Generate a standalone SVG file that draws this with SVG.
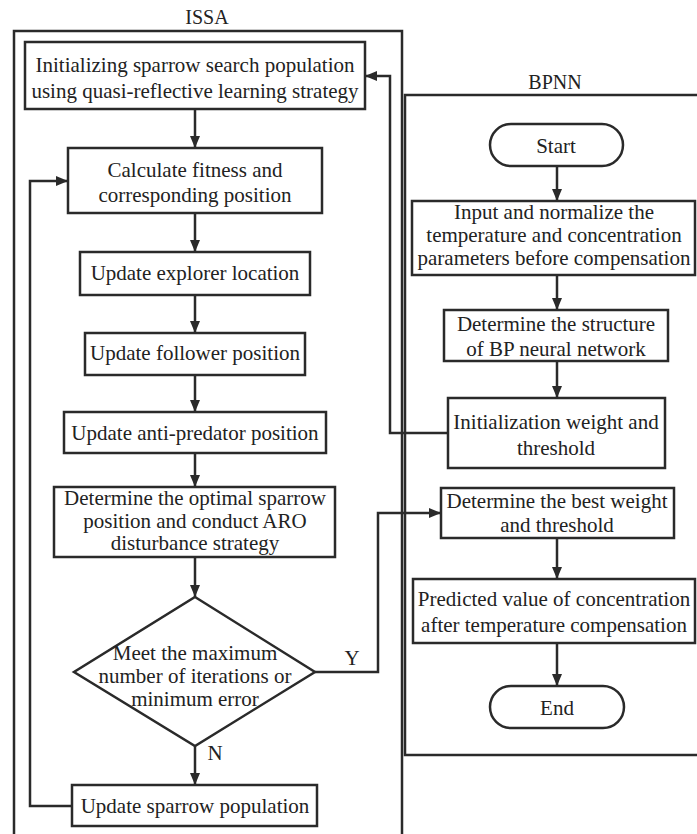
<svg xmlns="http://www.w3.org/2000/svg" width="697" height="834" viewBox="0 0 697 834">
<defs>
<marker id="ah" viewBox="0 0 12 10" refX="12" refY="5" markerWidth="12" markerHeight="10" markerUnits="userSpaceOnUse" orient="auto">
<path d="M0,0 L12,5 L0,10 z" fill="#2a2a2a"/>
</marker>
</defs>
<style>
.b{fill:#fff;stroke:#2a2a2a;stroke-width:2.5}
.o{fill:none;stroke:#2a2a2a;stroke-width:2.5}
.t{font-family:"Liberation Serif","Times New Roman",serif;font-size:21px;fill:#222;text-anchor:middle}
.l{font-family:"Liberation Serif","Times New Roman",serif;font-size:20px;fill:#222;text-anchor:middle}
.c{fill:none;stroke:#2a2a2a;stroke-width:2.5}
</style>
<rect width="697" height="834" fill="#fff"/>
<g id="issa">
<rect class="o" x="14" y="31" width="388" height="810"/>
<text class="l" x="207" y="24">ISSA</text>
</g>
<g id="bpnn">
<rect class="o" x="405" y="95" width="300" height="660"/>
<text class="l" x="555" y="89">BPNN</text>
</g>
<g id="connectors">
<line class="c" x1="195" y1="109" x2="195" y2="148" marker-end="url(#ah)"/>
<line class="c" x1="195" y1="213" x2="195" y2="252" marker-end="url(#ah)"/>
<line class="c" x1="195" y1="295" x2="195" y2="333" marker-end="url(#ah)"/>
<line class="c" x1="195" y1="375" x2="195" y2="412" marker-end="url(#ah)"/>
<line class="c" x1="195" y1="453" x2="195" y2="487" marker-end="url(#ah)"/>
<line class="c" x1="195" y1="557" x2="195" y2="597" marker-end="url(#ah)"/>
<line class="c" x1="195" y1="746" x2="195" y2="785" marker-end="url(#ah)"/>
<polyline class="c" points="72,806 30,806 30,181 68,181" marker-end="url(#ah)"/>
<polyline class="c" points="315,672 378,672 378,513 441,513" marker-end="url(#ah)"/>
<polyline class="c" points="448,433 390,433 390,76 365,76" marker-end="url(#ah)"/>
<line class="c" x1="557" y1="166" x2="557" y2="201" marker-end="url(#ah)"/>
<line class="c" x1="557" y1="275" x2="557" y2="310" marker-end="url(#ah)"/>
<line class="c" x1="557" y1="361" x2="557" y2="398" marker-end="url(#ah)"/>
<line class="c" x1="557" y1="538" x2="557" y2="579" marker-end="url(#ah)"/>
<line class="c" x1="557" y1="643" x2="557" y2="686" marker-end="url(#ah)"/>
<text class="t" x="352" y="665">Y</text>
<text class="t" x="215" y="760">N</text>
</g>
<g id="n1">
<rect class="b" x="25" y="42" width="340" height="67"/>
<text class="t" x="195" y="72">Initializing sparrow search population</text>
<text class="t" x="195" y="98">using quasi-reflective learning strategy</text>
</g>
<g id="n2">
<rect class="b" x="68" y="148" width="254" height="65"/>
<text class="t" x="195" y="177">Calculate fitness and</text>
<text class="t" x="195" y="202">corresponding position</text>
</g>
<g id="n3">
<rect class="b" x="80" y="252" width="230" height="43"/>
<text class="t" x="195" y="280">Update explorer location</text>
</g>
<g id="n4">
<rect class="b" x="85" y="333" width="220" height="42"/>
<text class="t" x="195" y="360">Update follower position</text>
</g>
<g id="n5">
<rect class="b" x="64" y="412" width="262" height="41"/>
<text class="t" x="195" y="440">Update anti-predator position</text>
</g>
<g id="n6">
<rect class="b" x="54" y="487" width="281" height="70"/>
<text class="t" x="195" y="505">Determine the optimal sparrow</text>
<text class="t" x="195" y="528">position and conduct ARO</text>
<text class="t" x="195" y="550">disturbance strategy</text>
</g>
<g id="n7">
<polygon class="b" points="195,597 315,672 195,746 74,672"/>
<text class="t" x="195" y="660">Meet the maximum</text>
<text class="t" x="195" y="683">number of iterations or</text>
<text class="t" x="195" y="706">minimum error</text>
</g>
<g id="n8">
<rect class="b" x="72" y="785" width="245" height="41"/>
<text class="t" x="195" y="813">Update sparrow population</text>
</g>
<g id="r0">
<rect class="b" x="490" y="124" width="133" height="42" rx="21" ry="21"/>
<text class="t" x="556" y="153">Start</text>
</g>
<g id="r1">
<rect class="b" x="412" y="201" width="283" height="74"/>
<text class="t" x="554" y="219">Input and normalize the</text>
<text class="t" x="554" y="242">temperature and concentration</text>
<text class="t" x="554" y="265">parameters before compensation</text>
</g>
<g id="r2">
<rect class="b" x="444" y="310" width="224" height="51"/>
<text class="t" x="556" y="331">Determine the structure</text>
<text class="t" x="556" y="356">of BP neural network</text>
</g>
<g id="r3">
<rect class="b" x="448" y="398" width="217" height="70"/>
<text class="t" x="556" y="429">Initialization weight and</text>
<text class="t" x="556" y="455">threshold</text>
</g>
<g id="r4">
<rect class="b" x="441" y="488" width="233" height="50"/>
<text class="t" x="557" y="508">Determine the best weight</text>
<text class="t" x="557" y="532">and threshold</text>
</g>
<g id="r5">
<rect class="b" x="413" y="579" width="282" height="64"/>
<text class="t" x="554" y="606">Predicted value of concentration</text>
<text class="t" x="554" y="632">after temperature compensation</text>
</g>
<g id="r6">
<rect class="b" x="490" y="686" width="134" height="42" rx="21" ry="21"/>
<text class="t" x="557" y="715">End</text>
</g>
</svg>
